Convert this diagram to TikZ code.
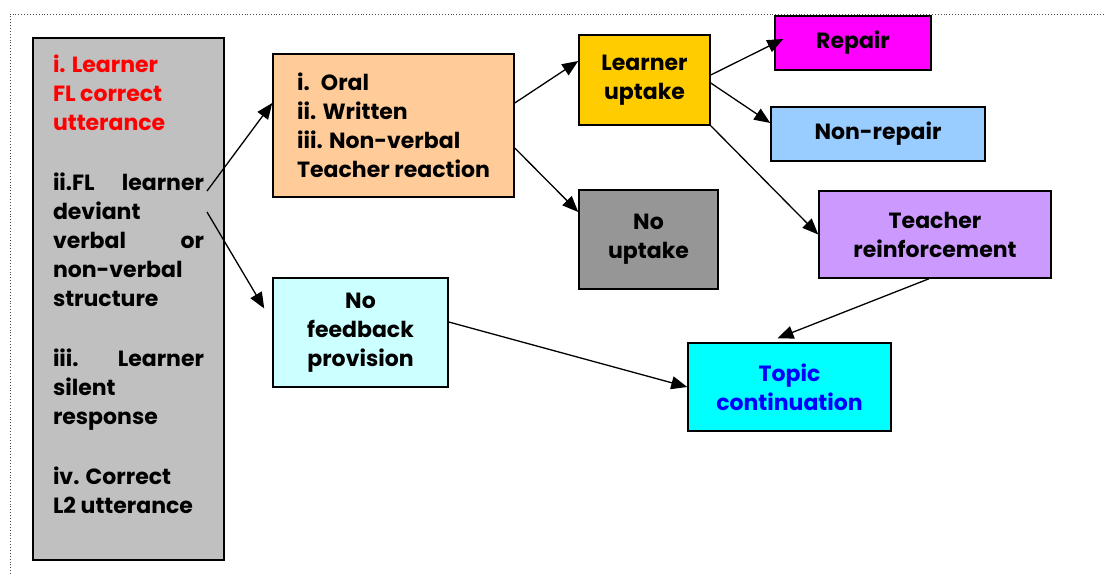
\documentclass[tikz,border=0pt]{standalone}
\usepackage{fontspec}
\setmainfont{Poppins}
\usepackage{xcolor}
\usepackage{tikz}
\usetikzlibrary{positioning, arrows.meta}

\definecolor{actgray}{HTML}{C0C0C0}
\definecolor{reactorange}{HTML}{FFCC99}
\definecolor{uptakeyellow}{HTML}{FFCC00}
\definecolor{repairmag}{HTML}{FF00FF}
\definecolor{nonrepblue}{HTML}{99CCFF}
\definecolor{nouptgray}{HTML}{969696}
\definecolor{reinfviolet}{HTML}{CC99FF}
\definecolor{nofbcyan}{HTML}{CCFFFF}
\definecolor{topiccyan}{HTML}{00FFFF}

% one justified line of the left box
\newcommand{\jline}[1]{\makebox[\linewidth][s]{#1}}

\begin{document}
\begin{tikzpicture}[
    x=1pt, y=-1pt,
    every node/.style={font=\fontsize{22}{29}\selectfont\bfseries},
    % plain coloured box with a dark border
    stage/.style={draw, line width=1.5pt, inner sep=0pt, align=center},
    % the tall box with the learner's turn
    turn/.style={stage, fill=actgray, inner xsep=20pt, inner ysep=17pt},
    arrow/.style={-{Triangle[length=16pt, width=13pt]}, line width=1.3pt}
]
\useasboundingbox (0,0) rectangle (1106,574);

% canvas frame
\draw[black!70, line width=0.9pt, dash pattern=on 0.9pt off 2pt] (10,574) -- (10,14) -- (1106,14);

\node[turn] (acts) at (128.5,299) {\parbox[c][488pt][t]{151pt}{\raggedright
  \textcolor{red}{i. Learner\\ FL correct\\ utterance}\\[31pt]
  \jline{ii.FL learner}\\ deviant\\ \jline{verbal or}\\ non-verbal\\ structure\\[31pt]
  \jline{iii. Learner}\\ silent\\ response\\[31pt]
  iv. Correct\\ L2 utterance}};

\node[stage, fill=reactorange, minimum width=241pt, minimum height=143pt,
      align=left] (reaction) at (393.5,125.5)
  {i.\phantom{i} Oral\\ ii. Written\\ iii. Non-verbal\\ Teacher reaction};

\node[stage, fill=uptakeyellow, minimum width=131pt, minimum height=90pt] (uptake) at (644.5,80) {Learner\\uptake};
\node[stage, fill=nouptgray, minimum width=139pt, minimum height=99pt] (noupt) at (648.5,239.5) {No\\uptake};

\node[stage, fill=repairmag, minimum width=156pt, minimum height=54pt] (repair) at (853,43) {Repair};
\node[stage, fill=nonrepblue, minimum width=214pt, minimum height=54pt] (nonrepair) at (878,134) {Non-repair};
\node[stage, fill=reinfviolet, minimum width=232pt, minimum height=87pt] (reinf) at (935,234.5) {Teacher\\reinforcement};

\node[stage, fill=nofbcyan, minimum width=175pt, minimum height=109pt] (nofb) at (360.5,332.5) {No\\feedback\\provision};
\node[stage, fill=topiccyan, text=blue, minimum width=203pt, minimum height=88pt] (topic) at (789.5,387) {Topic\\continuation};

\coordinate (deviantA) at (207,191);
\coordinate (deviantB) at (207,212);

\draw[arrow] (deviantA) -- ([yshift=22.5pt]reaction.west);
\draw[arrow] (deviantB) -- ([xshift=-8pt, yshift=24pt]nofb.west);

\draw[arrow] ([yshift=22.5pt]reaction.east) -- ([yshift=19pt]uptake.west);
\draw[arrow] ([yshift=-22.5pt]reaction.east) -- ([yshift=27.5pt]noupt.west);

\draw[arrow] ([yshift=5pt]uptake.east) -- ([xshift=9pt, yshift=4pt]repair.west);
\draw[arrow] ([yshift=-3pt]uptake.east) -- ([yshift=11pt]nonrepair.west);
\draw[arrow] (uptake.south east) -- (reinf.west);

\draw[arrow] ([xshift=-6pt]reinf.south) -- ([xshift=-12pt, yshift=4pt]topic.north);
\draw[arrow] ([yshift=10.5pt]nofb.east) -- (topic.west);

\end{tikzpicture}
\end{document}
